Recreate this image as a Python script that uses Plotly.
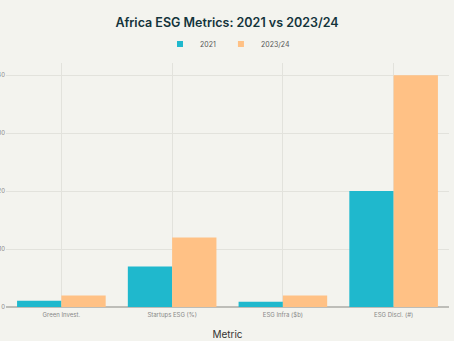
import plotly.graph_objects as go

categories = ["Green Invest.", "Startups ESG (%)", "ESG Infra ($b)", "ESG Discl. (#)"]
values_2021 = [1.1, 7, 0.9, 20]
values_2324 = [2, 12, 2, 40]
series_names = ["2021", "2023/24"]
colors = ["#1FB8CD", "#FFC185"]

fig = go.Figure()
for name, vals, col in zip(series_names, [values_2021, values_2324], colors):
    fig.add_trace(go.Bar(name=name, x=categories, y=vals, showlegend=False,
                         legendgroup=name,
                         marker=dict(color=col, line=dict(width=0))))
# legend entries with small square keys
for name, col in zip(series_names, colors):
    fig.add_trace(go.Scatter(name=name, x=[None], y=[None], mode="markers",
                             legendgroup=name,
                             marker=dict(symbol="square", size=6, color=col)))

fig.update_layout(
    width=454, height=341,
    paper_bgcolor="#F3F3EE", plot_bgcolor="#F3F3EE",
    margin=dict(l=6, r=5, t=63, b=34),
    font=dict(family="Inter, sans-serif", color="#13343B"),
    title=dict(text="Africa ESG Metrics: 2021 vs 2023/24", x=0.5, xanchor="center",
               y=0.935, yanchor="middle",
               font=dict(size=12.5, color="#13343B", weight=600)),
    legend=dict(orientation="h", x=0.5, xanchor="center", y=1.078, yanchor="middle",
                font=dict(size=7, color="#555"), bgcolor="rgba(0,0,0,0)",
                itemwidth=30, tracegroupgap=0),
    barmode="group", bargap=0.2, bargroupgap=0,
    showlegend=True,
)
fig.update_xaxes(title=dict(text="Metric", font=dict(size=10, color="#333"), standoff=12),
                 tickfont=dict(size=6, color="#888"), automargin=False, ticklabelstandoff=3,
                 showgrid=True, gridcolor="#E2E2DC", gridwidth=1)
fig.update_yaxes(tickfont=dict(size=6, color="#888"), showgrid=True, gridcolor="#E2E2DC",
                 zeroline=True, zerolinecolor="#BDBDB8", zerolinewidth=2,
                 dtick=10, automargin=False)

fig.write_html("out.html")
